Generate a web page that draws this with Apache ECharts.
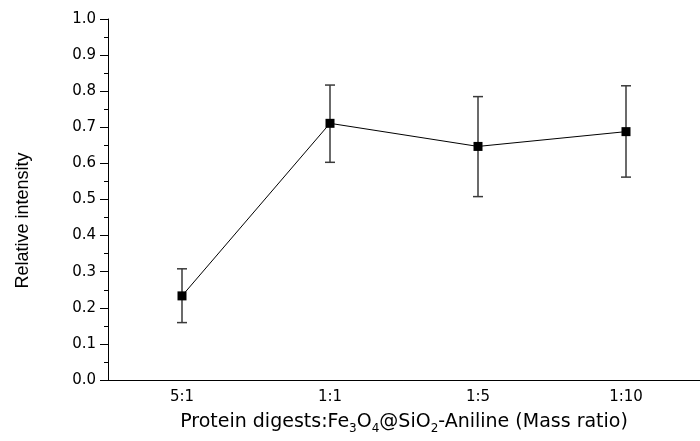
<!DOCTYPE html>
<html>
<head>
<meta charset="utf-8">
<script src="https://cdn.jsdelivr.net/npm/echarts@6/dist/echarts.min.js"></script>
<style>
  html, body { margin: 0; padding: 0; background: #fff; }
  #chart { width: 700px; height: 441px; }
</style>
</head>
<body>
<div id="chart"></div>
<script>
const categories = ['5:1', '1:1', '1:5', '1:10'];
const intensity = [0.233, 0.711, 0.647, 0.688];
const errLow = [0.159, 0.603, 0.508, 0.562];
const errHigh = [0.308, 0.817, 0.785, 0.815];

const chart = echarts.init(document.getElementById('chart'), null, { renderer: 'canvas' });

const errData = categories.map((c, i) => [i, errLow[i], errHigh[i]]);

chart.setOption({
  backgroundColor: '#fff',
  animation: false,
  grid: { left: 108, right: -4, top: 19, bottom: 61 },
  xAxis: [
    {
      type: 'category',
      data: categories,
      position: 'bottom',
      boundaryGap: true,
      axisLine: { lineStyle: { color: '#000', width: 1 } },
      axisTick: { alignWithLabel: true, length: 6, lineStyle: { color: '#000' } },
      axisLabel: { color: '#000', fontFamily: 'DejaVu Sans', fontSize: 15, margin: 10 },
      name: '{t|Protein digests:Fe}{s|3}{t|O}{s|4}{t|@SiO}{s|2}{t|-Aniline (Mass ratio)}',
      nameLocation: 'middle',
      nameGap: 33,
      nameTextStyle: {
        rich: {
          t: { fontFamily: 'DejaVu Sans', fontSize: 19, color: '#000', lineHeight: 24, verticalAlign: 'top' },
          s: { fontFamily: 'DejaVu Sans', fontSize: 12, color: '#000', lineHeight: 24, verticalAlign: 'top', padding: [10, 0, 0, 0] }
        }
      },
      splitLine: { show: false }
    },
    {
      type: 'category',
      data: categories,
      position: 'bottom',
      boundaryGap: true,
      axisLine: { show: false },
      axisTick: { alignWithLabel: false, length: 3, lineStyle: { color: '#000' } },
      axisLabel: { show: false },
      splitLine: { show: false }
    }
  ],
  yAxis: {
    type: 'value',
    min: 0,
    max: 1,
    interval: 0.1,
    axisLine: { show: true, lineStyle: { color: '#000', width: 1 } },
    axisTick: { show: true, length: 8, lineStyle: { color: '#000' } },
    minorTick: { show: true, splitNumber: 2, length: 4, lineStyle: { color: '#000' } },
    axisLabel: {
      color: '#000', fontFamily: 'DejaVu Sans', fontSize: 15, margin: 12,
      formatter: (v) => v.toFixed(1)
    },
    splitLine: { show: false },
    name: 'Relative intensity',
    nameLocation: 'middle',
    nameGap: 76,
    nameTextStyle: {
      fontFamily: 'Liberation Sans', fontSize: 18, color: '#000',
      padding: [0, 42, 0, 0]
    }
  },
  series: [
    {
      type: 'custom',
      xAxisIndex: 0,
      data: errData,
      z: 1,
      renderItem: (params, api) => {
        const x = api.value(0);
        const lo = api.coord([x, api.value(1)]);
        const hi = api.coord([x, api.value(2)]);
        const cap = 5;
        const style = { stroke: '#3a3a3a', lineWidth: 1.5 };
        return {
          type: 'group',
          children: [
            { type: 'line', shape: { x1: lo[0], y1: lo[1], x2: hi[0], y2: hi[1] }, style },
            { type: 'line', shape: { x1: hi[0] - cap, y1: hi[1], x2: hi[0] + cap, y2: hi[1] }, style },
            { type: 'line', shape: { x1: lo[0] - cap, y1: lo[1], x2: lo[0] + cap, y2: lo[1] }, style }
          ]
        };
      }
    },
    {
      type: 'line',
      xAxisIndex: 0,
      data: intensity,
      z: 3,
      symbol: 'rect',
      symbolSize: 9,
      itemStyle: { color: '#000' },
      lineStyle: { color: '#000', width: 1 }
    }
  ]
});
</script>
</body>
</html>
